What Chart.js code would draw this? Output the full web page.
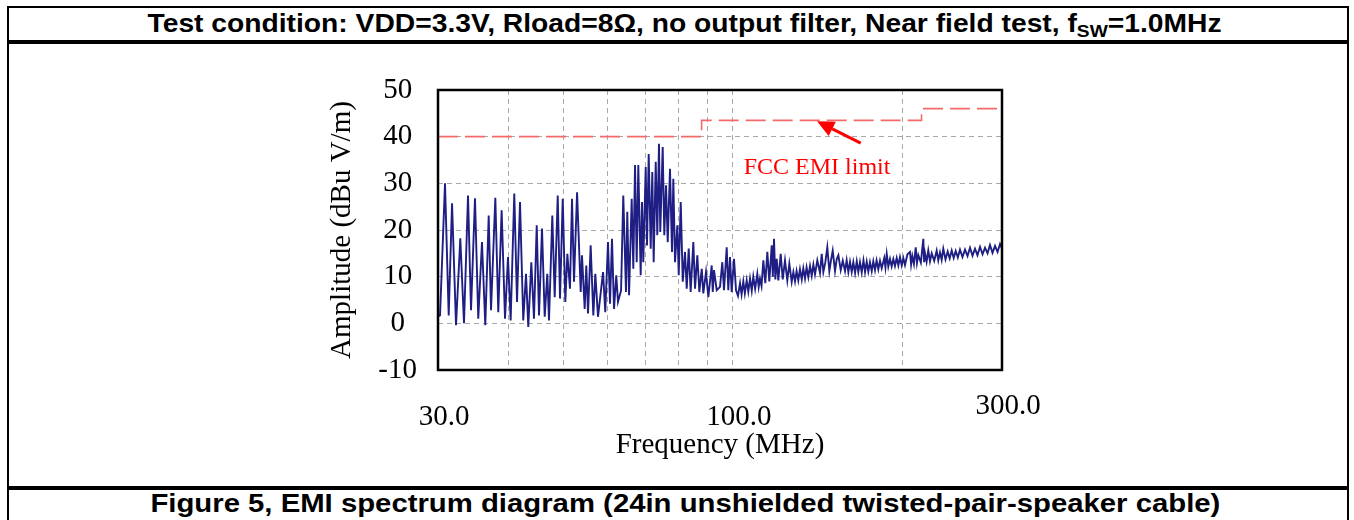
<!DOCTYPE html>
<html><head><meta charset="utf-8">
<script src="https://cdn.jsdelivr.net/npm/chart.js@4.4.1/dist/chart.umd.min.js"></script>
<style>
html,body{margin:0;padding:0;background:#fff;width:1354px;height:520px;overflow:hidden;}
.ln{position:absolute;background:#000;}
.cap{position:absolute;left:8px;width:1354px;text-align:center;font-family:"Liberation Sans",Arial,sans-serif;font-weight:bold;font-size:25px;line-height:28px;white-space:nowrap;color:#000;}
.cap .in{display:inline-block;transform-origin:center;}
.cap sub{font-size:17px;vertical-align:-5px;line-height:0;}
#wrap{position:absolute;left:10px;top:46px;width:1334px;height:440px;}
</style></head><body>
<div class="ln" style="left:7px;top:6px;width:1342px;height:2px;"></div>
<div class="ln" style="left:7px;top:6px;width:2px;height:514px;"></div>
<div class="ln" style="left:1347px;top:6px;width:2px;height:514px;"></div>
<div class="ln" style="left:7px;top:40px;width:1342px;height:4px;"></div>
<div class="ln" style="left:7px;top:486px;width:1342px;height:4px;"></div>
<div class="cap" style="top:9px;"><span class="in" data-w="1074">Test condition: VDD=3.3V, Rload=8Ω, no output filter, Near field test, f<sub>SW</sub>=1.0MHz</span></div>
<div class="cap" style="top:489px;"><span class="in" data-w="1070">Figure 5, EMI spectrum diagram (24in unshielded twisted-pair-speaker cable)</span></div>
<div id="wrap"><canvas id="c" width="1334" height="440"></canvas></div>
<script>
// ---- data ----
const freqMHz = [30.0,30.25,30.87,31.34,31.77,32.29,32.86,33.36,33.91,34.33,34.89,35.36,35.90,36.39,36.90,37.25,37.91,38.37,38.90,39.44,39.92,40.36,40.96,41.42,41.93,42.49,42.97,43.37,43.91,44.39,44.89,45.31,45.87,46.38,46.87,47.20,47.84,48.31,48.91,49.37,49.92,50.45,50.87,51.42,51.85,52.27,52.93,53.72,54.00,54.60,54.96,55.35,55.95,56.56,57.02,57.65,58.85,59.39,60.05,60.55,61.04,61.55,62.12,62.55,
63.34,63.92,64.63,64.97,65.44,66.15,66.59,67.06,67.52,67.96,68.63,69.00,69.36,70.05,70.42,70.91,71.49,71.96,72.36,72.97,73.44,73.95,74.34,75.08,75.57,76.11,76.64,77.35,77.99,78.41,78.95,79.70,80.16,80.81,81.49,82.24,82.82,83.49,84.16,85.08,85.67,86.48,87.19,88.05,88.62,89.60,90.45,91.71,92.10,92.58,
93.60,94.87,95.77,96.43,97.50,98.14,98.82,99.50,100.45,101.28,102.10,102.95,103.60,104.34,105.00,105.79,106.50,107.24,108.00,108.68,109.50,110.47,111.10,111.70,112.40,113.23,114.14,115.09,116.02,117.18,117.70,118.27,118.92,119.58,120.38,121.55,122.56,123.70,124.87,125.91,127.13,128.00,128.87,129.70,130.61,131.50,132.45,133.30,134.23,135.10,136.06,137.00,137.96,138.90,139.82,141.14,142.71,143.70,144.67,145.80,147.02,148.24,149.20,150.31,151.73,152.80,153.81,155.30,156.60,158.05,159.10,160.21,161.30,162.44,163.50,164.67,165.80,166.88,168.00,169.21,170.40,171.52,172.70,173.83,175.00,176.25,177.40,178.62,179.80,181.06,182.30,183.58,185.50,186.40,187.38,188.60,189.90,191.20,192.50,193.80,195.17,196.50,197.80,199.21,200.50,201.89,203.90,206.07,207.00,208.03,209.40,210.92,212.00,213.17,215.40,217.58,218.30,219.09,220.50,222.04,223.60,225.17,227.50,229.79,231.30,232.93,234.50,236.06,238.20,240.34,242.30,244.30,246.30,248.33,250.50,252.72,255.30,257.95,260.60,263.29,266.00,268.68,271.40,274.23,277.10,279.91,282.80,285.64,288.60,291.56,294.60,297.59,300.00];
const amplitude = [1.5,1.7,30.0,1.7,25.7,-0.4,18.2,0.0,27.4,2.8,26.8,1.0,17.4,-0.4,23.1,2.8,26.9,2.4,24.2,1.0,14.2,0.6,27.8,4.6,26.0,0.6,10.6,-0.8,13.1,1.0,21.0,1.7,20.3,1.4,10.6,0.6,23.1,5.6,27.4,5.3,26.7,4.6,14.9,7.4,26.7,8.9,28.1,6.7,14.6,3.1,12.4,2.1,16.7,1.7,10.6,1.4,11.0,2.4,17.4,4.2,18.1,3.1,10.3,4.6,
7.0,27.4,6.7,23.9,6.0,26.7,11.7,33.9,13.1,33.9,10.3,26.0,13.1,33.5,16.7,36.3,16.0,32.4,13.1,34.6,18.9,38.5,19.6,37.8,18.9,29.6,17.4,33.1,15.3,31.0,13.1,21.0,10.3,26.0,8.9,15.3,7.4,16.0,6.7,17.4,7.4,14.6,6.7,11.7,6.4,11.0,5.6,12.4,6.7,11.4,
7.1,7.8,13.1,7.1,16.3,7.1,14.2,6.7,13.8,7.1,5.9,8.6,6.2,9.0,6.4,9.2,6.8,9.6,7.0,10.0,7.4,10.6,7.8,9.6,8.0,13.5,8.6,15.3,9.0,16.7,10.0,18.1,9.4,13.8,9.2,14.9,9.4,13.5,9.2,12.8,8.9,11.0,9.0,11.2,9.2,11.6,9.4,11.8,9.6,12.0,9.9,12.3,10.2,12.6,10.5,13.5,10.8,14.9,11.0,13.0,16.3,11.2,13.4,15.6,11.2,13.8,14.6,11.4,13.4,11.2,13.5,11.0,13.2,11.0,13.1,10.8,13.3,11.0,13.1,10.9,13.5,11.0,13.2,11.1,13.1,11.2,13.3,11.4,13.5,11.6,13.4,11.8,14.0,12.0,14.9,12.2,13.8,12.2,13.8,12.3,14.0,12.4,14.2,12.4,14.0,12.5,14.8,15.3,12.6,14.4,12.7,16.3,12.9,14.6,13.0,18.1,13.1,15.0,13.2,15.6,13.3,15.0,13.4,15.6,13.5,15.2,13.6,16.0,13.7,15.4,13.9,15.6,14.0,15.5,14.1,15.8,14.2,15.8,14.4,16.2,14.5,16.0,14.6,16.4,14.8,16.2,15.0,16.8,15.1,16.6,15.3,17.0,16.0];
const limitFreq = [30, 88, 88, 216, 216, 300];
const limitAmp  = [40, 40, 43.5, 43.5, 46, 46];
const xGridFreq = [30, 40, 50, 60, 70, 80, 90, 100, 200, 300];
const xLabelFreq = [30, 100, 300];
const xLabelText = ['30.0', '100.0', '300.0'];
const yMin = -10, yMax = 50, yStep = 10;
const annoText = 'FCC EMI limit';
const annoTextAt = [141, 33.4];
const arrowTail = [168.5, 38.6];
const arrowHead = [141, 43.3];

// ---- title scaling ----
document.querySelectorAll('.cap .in').forEach(el => {
  const w = el.getBoundingClientRect().width;
  el.style.transform = 'scaleX(' + (Number(el.dataset.w) / w) + ')';
});

const serif = '"Liberation Serif", "Times New Roman", serif';

const decor = {
  id: 'decor',
  afterDraw(chart) {
    const {ctx, chartArea: a, scales: {x, y}} = chart;
    ctx.save();
    ctx.setLineDash([]);
    ctx.strokeStyle = '#000';
    ctx.lineWidth = 2.5;
    ctx.strokeRect(a.left, a.top, a.right - a.left, a.bottom - a.top);
    // x tick labels
    ctx.fillStyle = '#000';
    ctx.font = '29px ' + serif;
    ctx.textAlign = 'center';
    ctx.textBaseline = 'middle';
    xLabelFreq.forEach((f, i) => {
      const dy = (i === xLabelFreq.length - 1) ? -11 : 0;
      ctx.fillText(xLabelText[i], x.getPixelForValue(f) + 6, a.bottom + 47 + dy);
    });
    // annotation text
    ctx.fillStyle = '#ff0000';
    ctx.font = '24px ' + serif;
    ctx.fillText(annoText, x.getPixelForValue(annoTextAt[0]), y.getPixelForValue(annoTextAt[1]));
    // arrow
    const tx = x.getPixelForValue(arrowTail[0]), ty = y.getPixelForValue(arrowTail[1]);
    const hx = x.getPixelForValue(arrowHead[0]), hy = y.getPixelForValue(arrowHead[1]);
    const ang = Math.atan2(hy - ty, hx - tx);
    const L = 17, W = 8;
    const bx = hx - L * Math.cos(ang), by = hy - L * Math.sin(ang);
    ctx.strokeStyle = '#ff0000';
    ctx.lineWidth = 3;
    ctx.beginPath(); ctx.moveTo(tx, ty); ctx.lineTo(bx, by); ctx.stroke();
    ctx.beginPath();
    ctx.moveTo(hx, hy);
    ctx.lineTo(bx + W * Math.sin(ang), by - W * Math.cos(ang));
    ctx.lineTo(bx - W * Math.sin(ang), by + W * Math.cos(ang));
    ctx.closePath();
    ctx.fillStyle = '#ff0000';
    ctx.fill();
    ctx.restore();
  }
};

new Chart(document.getElementById('c'), {
  type: 'line',
  data: {
    datasets: [
      {
        label: 'FCC limit',
        data: limitFreq.map((f, i) => ({x: f, y: limitAmp[i]})),
        borderColor: '#f46a6a',
        borderWidth: 1.6,
        borderDash: [20, 7],
        pointRadius: 0,
        tension: 0,
        fill: false
      },
      {
        label: 'Spectrum',
        data: freqMHz.map((f, i) => ({x: f, y: amplitude[i]})),
        borderColor: '#1e1e84',
        borderWidth: 1.9,
        pointRadius: 0,
        tension: 0,
        fill: false
      }
    ]
  },
  options: {
    responsive: false,
    animation: false,
    devicePixelRatio: 1,
    layout: {padding: {left: 308, right: 342, top: 44, bottom: 23}},
    plugins: {legend: {display: false}, tooltip: {enabled: false}},
    scales: {
      x: {
        type: 'logarithmic',
        min: 30, max: 300,
        afterBuildTicks: s => { s.ticks = xGridFreq.map(v => ({value: v})); },
        afterFit: s => { s.height = 93; },
        ticks: {display: false},
        grid: {color: '#a9a9a9', lineWidth: 1, drawTicks: false},
        border: {display: false, dash: [5, 4]},
        title: {display: true, text: 'Frequency (MHz)', color: '#000', font: {family: serif, size: 29}, padding: {top: 0, bottom: 0}}
      },
      y: {
        type: 'linear',
        min: yMin, max: yMax,
        afterFit: s => { s.width = 120; },
        ticks: {stepSize: yStep, color: '#000', font: {family: serif, size: 29}, padding: 21, crossAlign: 'center'},
        grid: {color: '#a9a9a9', lineWidth: 1, drawTicks: false},
        border: {display: false, dash: [5, 4]},
        title: {display: true, text: 'Amplitude (dBu V/m)', color: '#000', font: {family: serif, size: 29}, padding: {top: 7, bottom: 0}}
      }
    }
  },
  plugins: [decor]
});
</script>
</body></html>
